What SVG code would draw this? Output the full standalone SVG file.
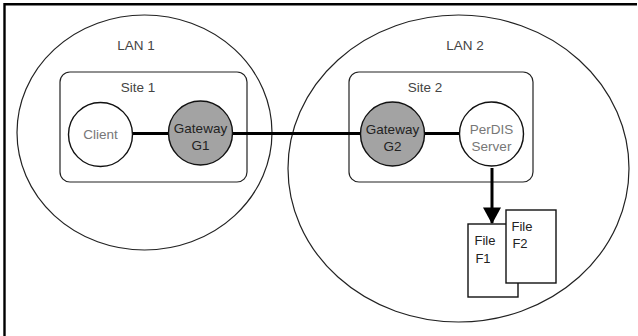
<svg xmlns="http://www.w3.org/2000/svg" width="638" height="336" viewBox="0 0 638 336">
<style>
.lan{fill:none;stroke:#222;stroke-width:1.2}
.site{fill:none;stroke:#222;stroke-width:1.2}
.node{stroke:#111;stroke-width:1.4}
.gw{fill:#a3a3a3}
.wh{fill:#fff}
.t{font-family:"Liberation Sans",Arial,sans-serif;font-size:13.5px;text-anchor:middle}
.f{font-size:13px}
.lbl{fill:#444}
.lt{fill:#777}
.dk{fill:#222}
.file{fill:#fff;stroke:#111;stroke-width:1.4}
.conn{stroke:#000;stroke-width:3;fill:none}
</style>
<defs>
<marker id="ah" markerWidth="6" markerHeight="6" refX="5.2" refY="3" orient="auto" markerUnits="strokeWidth">
<path d="M0,0 L5.5,3 L0,6 Z" fill="#000"/>
</marker>
</defs>
<rect width="638" height="336" fill="#fff"/>
<g id="frame">
<path d="M4.5,336 V4.3 H637" fill="none" stroke="#000" stroke-width="2.4"/>
</g>
<g id="lan1">
<ellipse class="lan" cx="144.5" cy="132.5" rx="127.5" ry="117.5"/>
<text class="t lbl" x="136" y="50">LAN 1</text>
</g>
<g id="lan2">
<ellipse class="lan" cx="458.5" cy="168.5" rx="170.5" ry="153.5"/>
<text class="t lbl" x="465" y="50">LAN 2</text>
</g>
<g id="site1">
<rect class="site" x="60" y="72" width="187" height="110" rx="10"/>
<text class="t lbl" x="138" y="92">Site 1</text>
</g>
<g id="site2">
<rect class="site" x="349" y="72" width="184" height="110" rx="10"/>
<text class="t lbl" x="425" y="92">Site 2</text>
</g>
<g id="connectors">
<line class="conn" x1="132" y1="133.5" x2="169" y2="133.5"/>
<line class="conn" x1="232" y1="133.5" x2="361" y2="133.5"/>
<line class="conn" x1="424" y1="133.5" x2="460" y2="133.5"/>
<line class="conn" x1="492" y1="168" x2="492" y2="223" marker-end="url(#ah)"/>
</g>
<g id="client">
<circle class="node wh" cx="100.5" cy="134.5" r="32"/>
<text class="t lt" x="100.5" y="139">Client</text>
</g>
<g id="gateway1">
<circle class="node gw" cx="200.5" cy="133" r="32"/>
<text class="t dk" x="200.5" y="133">Gateway</text>
<text class="t dk" x="200.5" y="150">G1</text>
</g>
<g id="gateway2">
<circle class="node gw" cx="392.5" cy="134" r="32"/>
<text class="t dk" x="392.5" y="134">Gateway</text>
<text class="t dk" x="392.5" y="151">G2</text>
</g>
<g id="server">
<circle class="node wh" cx="491.5" cy="134" r="32"/>
<text class="t lt" x="491.5" y="134">PerDIS</text>
<text class="t lt" x="491.5" y="151">Server</text>
</g>
<g id="fileF1">
<rect class="file" x="468" y="224" width="50" height="73"/>
<text class="t f dk" x="485" y="245">File</text>
<text class="t f dk" x="483" y="263">F1</text>
</g>
<g id="fileF2">
<rect class="file" x="506" y="210" width="50" height="73"/>
<text class="t f dk" x="522" y="231">File</text>
<text class="t f dk" x="520" y="248">F2</text>
</g>
</svg>
